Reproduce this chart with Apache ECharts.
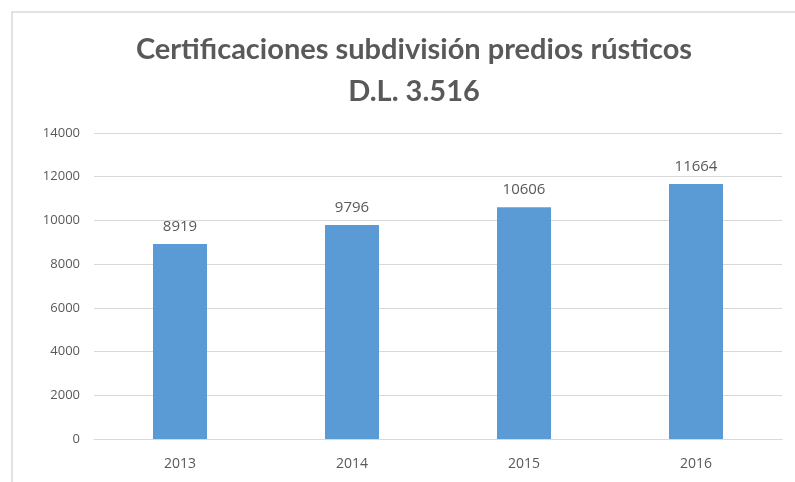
<!DOCTYPE html>
<html>
<head>
<meta charset="utf-8">
<script src="https://cdn.jsdelivr.net/npm/echarts@6/dist/echarts.min.js"></script>
<style>
  html, body { margin: 0; padding: 0; background: #fff; }
  #chart { width: 795px; height: 482px; }
</style>
</head>
<body>
<div id="chart"></div>
<script>
const years = ["2013", "2014", "2015", "2016"];
const certificaciones = [8919, 9796, 10606, 11664];
const yTicks = [0, 2000, 4000, 6000, 8000, 10000, 12000, 14000];

const chart = echarts.init(document.getElementById("chart"));
chart.setOption({
  backgroundColor: "#fff",
  animation: false,
  graphic: [
    {
      type: "rect",
      shape: { x: 12, y: 12, width: 800, height: 500 },
      style: { fill: "none", stroke: "#d9d9d9", lineWidth: 1.5 },
    },
  ],
  title: {
    text: "Certificaciones subdivisión predios rústicos\nD.L. 3.516",
    left: 409,
    top: 24,
    textAlign: "center",
    textStyle: {
      fontFamily: "Lato",
      fontWeight: "bold",
      fontSize: 29,
      lineHeight: 42,
      color: "#595959",
    },
  },
  grid: { left: 94, right: 13, top: 133, bottom: 43 },
  xAxis: {
    type: "category",
    data: years,
    axisLine: { lineStyle: { color: "#d9d9d9" } },
    axisTick: { show: false },
    axisLabel: { color: "#595959", fontSize: 14, margin: 18, fontFamily: "Open Sans" },
  },
  yAxis: {
    type: "value",
    min: yTicks[0],
    max: yTicks[yTicks.length - 1],
    interval: 2000,
    axisLine: { show: false },
    axisTick: { show: false },
    splitLine: { lineStyle: { color: "#d9d9d9" } },
    axisLabel: {
      color: "#595959",
      fontSize: 13,
      margin: 14,
      fontFamily: "Open Sans",
      formatter: (v) => String(v),
    },
  },
  series: [
    {
      type: "bar",
      data: certificaciones,
      barWidth: 54,
      itemStyle: { color: "#5b9bd5" },
      label: {
        show: true,
        position: "top",
        distance: 10,
        color: "#595959",
        fontSize: 15,
        fontFamily: "Open Sans",
      },
    },
  ],
});
</script>
</body>
</html>
